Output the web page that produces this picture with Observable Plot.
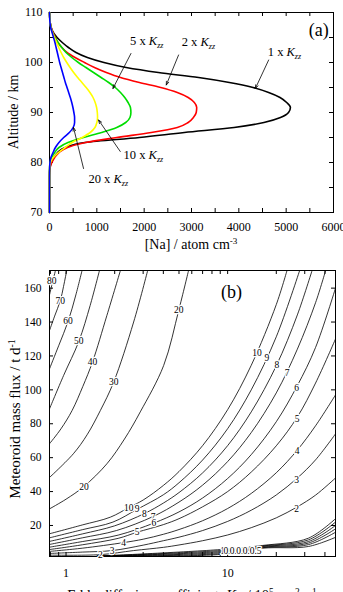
<!DOCTYPE html>
<html><head><meta charset="utf-8">
<script src="https://cdn.jsdelivr.net/npm/d3@7"></script>
<script src="https://cdn.jsdelivr.net/npm/@observablehq/plot@0.6"></script>
<style>
html,body{margin:0;padding:0;background:#fff;overflow:hidden}
#wrap{position:relative;width:343px;height:592px;font-family:"Liberation Serif","Times New Roman",serif;color:#000;overflow:hidden}
.panel{position:absolute;left:0}
.title{position:absolute;white-space:nowrap;line-height:1}
.rot{transform:translate(-50%,-50%) rotate(-90deg)}
sup{font-size:0.65em;vertical-align:0.5em;line-height:0}
sub{font-size:0.65em;vertical-align:-0.25em;line-height:0;font-style:italic}
</style></head><body><div id="wrap"></div>
<script>
// ---------- Panel (a) data ----------
const altitude = [110,109,108,107,106,105,104,103,102,101,100,99,98,97,96,95,94,93,92,91,90,89,88,87,86,85,84,83,82,81,80,79,78,77,70];
const na1x  = [0,5,15,35,80,160,270,400,560,800,1150,1620,2300,3150,3800,4300,4630,4870,5010,5090,5050,4880,4530,3900,2850,1900,750,330,170,90,40,10,2,0,0];
const na2x  = [0,5,15,35,75,125,180,260,370,540,740,950,1200,1500,1900,2350,2700,2930,3060,3110,3100,3040,2930,2700,2150,1420,760,380,200,110,50,12,2,0,0];
const na5x  = [0,5,15,30,65,115,180,260,350,470,610,770,930,1090,1250,1390,1500,1590,1660,1710,1720,1700,1610,1420,1100,720,390,200,110,46,12,2,0,0,0];
const na10x = [0,4,12,28,60,105,150,195,245,300,365,435,510,595,685,775,855,920,965,995,1010,1015,1000,960,860,690,480,330,190,80,20,3,0,0,0];
const na20x = [0,3,10,25,55,85,115,140,165,190,215,245,275,305,335,370,405,440,470,495,515,530,530,500,420,300,200,125,75,30,10,3,0,0,0];
const curveColors = ["#000000","#ff0000","#00dd00","#ffff00","#0000ff"];

const annotText = ["1 x ","2 x ","5 x ","10 x ","20 x "];
const annotNa   = [4963,3145,2055,1983,1241];
const annotAlt  = [102.2,104.2,104.4,81.5,76.8];
const arrowFromNa  = [4630,2727,1721,1495,719];
const arrowFromAlt = [100.5,101.5,101.8,82.2,78.8];
const arrowToNa    = [4349,2467,1340,1036,507];
const arrowToAlt   = [94.8,95.5,94.8,88.5,87.0];

const naTicks = [0,500,1000,1500,2000,2500,3000,3500,4000,4500,5000,5500,6000];
const naLabels = [0,1000,2000,3000,4000,5000,6000];
const altTicks = [70,75,80,85,90,95,100,105,110];
const altLabels = [70,80,90,100,110];

// ---------- Panel (b) data: contour lines [Kzz multiplier, flux] ----------
const c80 = [[0.79,156],[0.82,162.5],[0.86,170.4]];
const c70 = [[0.79,135],[0.85,143.5],[0.922,152.7],[0.965,161],[1.01,170.4]];
const c60 = [[0.79,112.4],[0.9,126],[1.03,140.4],[1.15,156],[1.256,170.4]];
const c50 = [[0.79,88.8],[0.966,108.5],[1.2,128.6],[1.41,149.8],[1.61,170.4]];
const c40 = [[0.79,68.2],[0.93,77],[1.09,87.8],[1.27,102],[1.46,116.6],[1.79,143.9],[2.17,170.4]];
const c30 = [[0.79,48.3],[1.11,62.3],[1.35,73.5],[1.63,87.8],[1.97,104.5],[2.62,140],[3.2,170.4]];
const c20 = [[0.79,29.8],[1.0,35.5],[1.29,43],[1.79,56.4],[2.3,71],[2.88,87],[4.02,114.4],[4.98,146.9],[5.73,170.4]];
const c10 = [[0.79,15.1],[1.26,20.3],[1.88,24.9],[2.44,30.5],[3,35],[4,43.6],[5,51.8],[7,67.1],[10,88.3],[14,114.5],[20,150.3],[23.3,170.4]];
const c9  = [[0.79,12.7],[1.26,17.5],[1.95,22],[2.75,29.5],[4,38.1],[5,45.2],[7,58.6],[10,77.1],[14,100],[20,131.3],[27.9,170.4]];
const c8  = [[0.79,10.6],[1.26,15],[2,19.8],[3.05,27],[4,33.2],[5,39.4],[7,51],[10,67.1],[14,87],[20,114.2],[27,144.2],[33.3,170.4]];
const c7  = [[0.79,8.8],[1.26,12.7],[2.05,17],[3.46,25.3],[5,33.8],[7,43.8],[10,57.7],[14,74.8],[20,98.2],[27,124],[35,151.4],[40.4,170.4]];
const c6  = [[0.79,7.2],[1.26,10.5],[2.1,14.3],[3.49,21.4],[5,28],[7,36.2],[10,47.7],[14,61.8],[20,81.2],[27,102.5],[35,125],[46.5,160]];
const c5  = [[0.79,5.8],[1.26,8.6],[2.1,12.4],[2.75,16],[4,20.5],[5,24],[7,31],[10,40],[14,51.5],[20,67],[27,84],[35,104],[46.5,130]];
const c4  = [[0.79,4.7],[1.26,6.6],[2.27,9.9],[3,11.9],[4,14.8],[5,17.6],[7,22.8],[10,30],[14,38.9],[20,51.1],[27,64.5],[35,78.8],[46.5,97]];
const c3  = [[0.79,3.5],[1.26,4.3],[1.93,5.2],[3,8.4],[4,11],[5,13.1],[7,17],[10,22.4],[14,29],[20,38],[27,48],[35,58.7],[46.5,74]];
const c2  = [[0.79,2.5],[1.63,2.8],[2.62,5.2],[4,7.1],[5,8.5],[7,11],[10,14.4],[14,18.7],[20,24.5],[27,31],[35,37.9],[46.5,48]];
const c1_0 = [[1.56,1.9],[9,5.8],[16.4,8.2],[31.6,12.5],[46.5,24]];
const c0_9 = [[1.56,1.9],[9,5.2],[16.4,7.9],[31.6,11.5],[46.5,22]];
const c0_8 = [[1.56,1.9],[9,4.6],[16.4,7.6],[31.6,10.5],[46.5,20]];
const c0_7 = [[1.56,1.9],[9,4.0],[16.4,7.2],[31.6,9.6],[46.5,18]];
const c0_6 = [[1.56,1.9],[9,3.4],[16.4,6.9],[31.6,8.7],[46.5,16]];
const c0_5 = [[1.56,1.9],[9,2.9],[16.4,6.6],[31.6,7.6],[46.5,13]];
const contourLevels = ["80","70","60","50","40","30","20","10","9","8","7","6","5","4","3","2","1","0.9","0.8","0.7","0.6","0.5"];
const contourLines = [c80,c70,c60,c50,c40,c30,c20,c10,c9,c8,c7,c6,c5,c4,c3,c2,c1_0,c0_9,c0_8,c0_7,c0_6,c0_5];

const labelText = ["80","70","60","50","40","30","20","20","10","9","8","7","6","5","4","3","2","10","9","8","7","6","5","4","3","2","1","0.9","0.8","0.7","0.6","0.5"];
const labelK    = [0.815,0.922,1.03,1.2,1.46,1.97,4.98,1.29,2.44,2.75,3.05,3.46,3.49,2.75,2.27,1.93,1.63,15.2,17.5,20.2,23.3,26.7,26.9,26.9,26.7,26.7,9.3,10.25,11.2,12.3,13.5,14.9];
const labelFlux = [164.5,152.7,140.4,128.6,116.6,104.5,146.9,43,30.5,29.5,27,25.3,21.4,16,9.9,5.2,2.8,122,118.7,114.4,110.1,101,83,64.2,47,29.8,4.7,4.7,4.7,4.7,4.7,4.7];

const kTicks = [0.8,0.9,1,2,3,4,5,6,7,8,9,10,20,30,40];
const kLabels = [1,10];
const fluxTicks = [20,40,60,80,100,120,140,160];

const wrap = document.getElementById("wrap");
const W = 343;
const font = "'Liberation Serif','Times New Roman',serif";

// ---------- Panel (a) ----------
{
  const H = 236, mt = 12, mb = 24, ml = 49, mr = 10;
  const iH = H - mt - mb, iW = W - ml - mr, tl = 4;
  const prof = vals => altitude.map((a, i) => ({alt: a, na: vals[i]}));
  const series = [na1x, na2x, na5x, na10x, na20x];
  const idx = annotText.map((_, i) => i);
  const svg = Plot.plot({
    width: W, height: H, marginTop: mt, marginBottom: mb, marginLeft: ml, marginRight: mr,
    style: {fontFamily: font, fontSize: "12px", background: "transparent"},
    x: {domain: [0, 6000]},
    y: {domain: [70, 110]},
    marks: [
      Plot.frame({stroke: "black", strokeWidth: 1}),
      Plot.tickX(naTicks, {x: d => d, insetTop: iH - tl, stroke: "black"}),
      Plot.tickX(naTicks, {x: d => d, insetBottom: iH - tl, stroke: "black"}),
      Plot.tickY(altTicks, {y: d => d, insetRight: iW - tl, stroke: "black"}),
      Plot.tickY(altTicks, {y: d => d, insetLeft: iW - tl, stroke: "black"}),
      Plot.axisX({ticks: naLabels, tickSize: 0, tickPadding: 10, tickFormat: d => String(d), label: null, fontSize: 12}),
      Plot.axisY({ticks: altLabels, tickSize: 0, tickPadding: 7, tickFormat: d => String(d), label: null, fontSize: 12}),
      ...series.map((s, j) => Plot.line(prof(s), {x: "na", y: "alt", stroke: curveColors[j], strokeWidth: 1.6, curve: "monotone-y"})),
      Plot.arrow(idx, {x1: i => arrowFromNa[i], y1: i => arrowFromAlt[i], x2: i => arrowToNa[i], y2: i => arrowToAlt[i], stroke: "black", strokeWidth: 0.8, headLength: 7, headAngle: 40}),
      Plot.text(idx, {x: i => annotNa[i], y: i => annotAlt[i], text: i => annotText[i] + "Kzz", fontSize: 12.5, fill: "black"}),
      Plot.text(["(a)"], {x: 5687, y: 106.5, text: d => d, fontSize: 18, fill: "black"})
    ]
  });
  const ns = "http://www.w3.org/2000/svg";
  svg.querySelectorAll("text").forEach(t => {
    const s = t.textContent;
    if (!/Kzz$/.test(s) || t.children.length) return;
    const pre = s.slice(0, -3);
    t.textContent = "";
    t.appendChild(document.createTextNode(pre));
    const k = document.createElementNS(ns, "tspan"); k.setAttribute("font-style", "italic"); k.textContent = "K"; t.appendChild(k);
    const z = document.createElementNS(ns, "tspan"); z.setAttribute("font-style", "italic"); z.setAttribute("font-size", "8"); z.setAttribute("dy", "3"); z.textContent = "zz"; t.appendChild(z);
  });
  svg.classList.add("panel"); svg.style.top = "0px";
  wrap.appendChild(svg);
}

// ---------- Panel (b) ----------
{
  const top = 256, H = 336, mt = 14, mb = 36, ml = 49, mr = 8;
  const iH = H - mt - mb, iW = W - ml - mr, tl = 4;
  const cdata = contourLines.flatMap((pts, j) => pts.map(([k, f]) => ({k, f, level: contourLevels[j]})));
  const lidx = labelText.map((_, i) => i);
  const svg = Plot.plot({
    width: W, height: H, marginTop: mt, marginBottom: mb, marginLeft: ml, marginRight: mr,
    style: {fontFamily: font, fontSize: "12px", background: "transparent"},
    x: {type: "log", domain: [0.79, 46.5]},
    y: {domain: [1.7, 170.4]},
    marks: [
      Plot.frame({stroke: "black", strokeWidth: 1}),
      Plot.tickX(kTicks, {x: d => d, insetTop: iH - tl, stroke: "black"}),
      Plot.tickX(kTicks, {x: d => d, insetBottom: iH - tl, stroke: "black"}),
      Plot.tickY(fluxTicks, {y: d => d, insetRight: iW - tl, stroke: "black"}),
      Plot.tickY(fluxTicks, {y: d => d, insetLeft: iW - tl, stroke: "black"}),
      Plot.axisX({ticks: kLabels, tickSize: 0, tickPadding: 12, tickFormat: d => String(d), label: null, fontSize: 12}),
      Plot.axisY({ticks: fluxTicks, tickSize: 0, tickPadding: 8, tickFormat: d => String(d), label: null, fontSize: 11.5}),
      Plot.line(cdata, {x: "k", y: "f", z: "level", stroke: "black", strokeWidth: 0.8, curve: "catmull-rom", clip: true}),
      Plot.text(lidx, {x: i => labelK[i], y: i => labelFlux[i], text: i => labelText[i], fontSize: 9.5, fill: "black", stroke: "white", strokeWidth: 2.5}),
      Plot.text(["(b)"], {x: 10.56, y: 157.6, text: d => d, fontSize: 18, fill: "black"})
    ]
  });
  svg.classList.add("panel"); svg.style.top = top + "px";
  wrap.appendChild(svg);
}

// ---------- Titles ----------
function addTitle(html, css) {
  const d = document.createElement("div");
  d.className = "title" + (css.rot ? " rot" : "");
  d.innerHTML = html;
  d.style.left = css.left + "px"; d.style.top = css.top + "px"; d.style.fontSize = css.size + "px";
  if (css.transform) d.style.transform = css.transform;
  wrap.appendChild(d);
}
addTitle("Altitude / km", {left: 13.5, top: 112, size: 14, rot: true});
addTitle("[Na] / atom cm<sup>-3</sup>", {left: 191, top: 245, size: 14, transform: "translate(-50%,-50%)"});
addTitle("Meteoroid mass flux / t d<sup>-1</sup>", {left: 15, top: 419, size: 15, rot: true});
addTitle("Eddy diffusion coefficient, <i>K</i><sub>zz</sub> / 10<sup>5</sup> cm<sup>2</sup> s<sup>-1</sup>", {left: 192, top: 588, size: 14.5, transform: "translateX(-50%)"});
</script></body></html>
